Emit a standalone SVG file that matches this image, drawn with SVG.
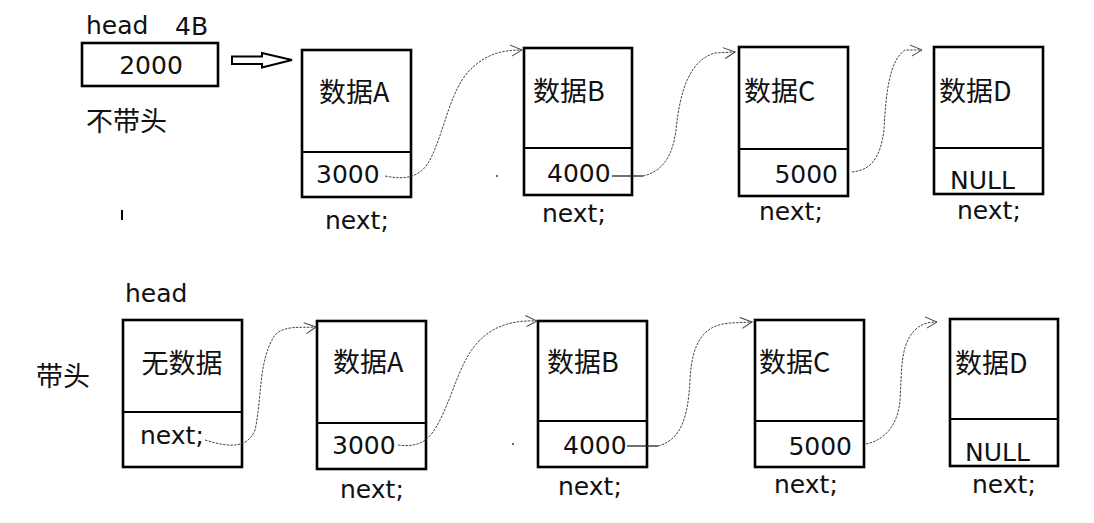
<svg xmlns="http://www.w3.org/2000/svg" width="1094" height="523" viewBox="0 0 1094 523">
<defs>
<marker id="arr" viewBox="0 0 14 14" refX="13" refY="7" markerWidth="14" markerHeight="14" markerUnits="userSpaceOnUse" orient="auto">
<path d="M1,2 L13,7 L3,13" fill="none" stroke="#444" stroke-width="1"/>
</marker>
</defs>
<style>
.box{fill:#fff;stroke:#000;stroke-width:2.6}
.div{stroke:#000;stroke-width:2}
.t{font-family:"DejaVu Sans","Noto Sans CJK SC",sans-serif;font-size:25px;fill:#111}
.c{font-family:"Noto Sans CJK SC","DejaVu Sans",sans-serif;font-size:27px;fill:#111}
.conn{fill:none;stroke:#444;stroke-width:1;stroke-dasharray:2.5 1.2}
.solid{fill:none;stroke:#222;stroke-width:1.3}
</style>
<rect width="1094" height="523" fill="#fff"/>

<g id="labels">
<text class="t" x="86" y="34">head</text>
<text class="t" x="175" y="35">4B</text>
<text class="c" x="86" y="131">不带头</text>
<text class="t" x="125" y="302">head</text>
<text class="c" x="36" y="386">带头</text>
<path d="M122,210 L122,220" stroke="#000" stroke-width="2"/>
<circle cx="497" cy="176" r="1" fill="#333"/>
<circle cx="513" cy="444" r="1" fill="#333"/>
</g>

<g id="head-top">
<rect class="box" x="82" y="43" width="136" height="43"/>
<text class="t" x="151" y="74" text-anchor="middle">2000</text>
</g>
<g id="hollow-arrow">
<path d="M232,56.5 L262,56.5 L262,53 L292,60 L262,67.5 L262,64 L232,64 Z" fill="#fff" stroke="#000" stroke-width="2"/>
</g>

<g id="top-A">
<rect class="box" x="302" y="50" width="109" height="147"/>
<line class="div" x1="302" y1="152" x2="411" y2="152"/>
<text class="c" x="319" y="102">数据A</text>
<text class="t" x="316" y="183">3000</text>
<text class="t" x="325" y="229">next;</text>
</g>
<g id="top-B">
<rect class="box" x="524" y="48" width="108" height="147"/>
<line class="div" x1="524" y1="148" x2="632" y2="148"/>
<text class="c" x="533" y="101">数据B</text>
<text class="t" x="547" y="182">4000</text>
<text class="t" x="542" y="222">next;</text>
</g>
<g id="top-C">
<rect class="box" x="739" y="47" width="109" height="149"/>
<line class="div" x1="739" y1="149" x2="848" y2="149"/>
<text class="c" x="744" y="101">数据C</text>
<text class="t" x="838" y="183" text-anchor="end">5000</text>
<text class="t" x="759" y="220">next;</text>
</g>
<g id="top-D">
<rect class="box" x="934" y="47" width="109" height="147"/>
<line class="div" x1="934" y1="148" x2="1043" y2="148"/>
<text class="c" x="939" y="101">数据D</text>
<text class="t" x="950" y="189">NULL</text>
<text class="t" x="957" y="219">next;</text>
</g>

<g id="bot-head">
<rect class="box" x="123" y="320" width="119" height="147"/>
<line class="div" x1="123" y1="412" x2="242" y2="412"/>
<text class="c" x="182" y="373" text-anchor="middle">无数据</text>
<text class="t" x="140" y="444">next;</text>
</g>
<g id="bot-A">
<rect class="box" x="317" y="321" width="109" height="148"/>
<line class="div" x1="317" y1="423" x2="426" y2="423"/>
<text class="c" x="333" y="372">数据A</text>
<text class="t" x="332" y="454">3000</text>
<text class="t" x="340" y="498">next;</text>
</g>
<g id="bot-B">
<rect class="box" x="538" y="321" width="109" height="146"/>
<line class="div" x1="538" y1="421" x2="647" y2="421"/>
<text class="c" x="547" y="372">数据B</text>
<text class="t" x="563" y="454">4000</text>
<text class="t" x="558" y="495">next;</text>
</g>
<g id="bot-C">
<rect class="box" x="755" y="320" width="109" height="147"/>
<line class="div" x1="755" y1="421" x2="864" y2="421"/>
<text class="c" x="759" y="372">数据C</text>
<text class="t" x="852" y="455" text-anchor="end">5000</text>
<text class="t" x="774" y="493">next;</text>
</g>
<g id="bot-D">
<rect class="box" x="950" y="319" width="108" height="147"/>
<line class="div" x1="950" y1="419" x2="1058" y2="419"/>
<text class="c" x="955" y="373">数据D</text>
<text class="t" x="965" y="461">NULL</text>
<text class="t" x="972" y="493">next;</text>
</g>

<g id="connectors">
<path class="conn" marker-end="url(#arr)" d="M385,176 C405,180 420,178 430,160 C445,130 450,90 470,70 C485,55 500,50 522,50"/>
<path class="solid" d="M612,176 L643,176"/>
<path class="conn" marker-end="url(#arr)" d="M643,176 C660,172 672,160 676,130 C680,90 690,60 715,53 L735,52"/>
<path class="conn" marker-end="url(#arr)" d="M852,172 C870,170 880,160 884,130 C886,90 890,60 905,50 L922,50"/>
<path class="conn" marker-end="url(#arr)" d="M205,440 C230,448 248,448 255,430 C262,400 258,360 275,335 C285,325 300,328 316,327"/>
<path class="conn" marker-end="url(#arr)" d="M398,445 C420,448 430,440 440,420 C455,390 460,360 480,340 C495,325 515,320 537,321"/>
<path class="solid" d="M627,446 L658,446"/>
<path class="conn" marker-end="url(#arr)" d="M658,446 C680,440 688,420 690,380 C692,340 705,325 730,323 L752,322"/>
<path class="conn" marker-end="url(#arr)" d="M866,444 C885,440 898,425 900,400 C902,370 900,345 915,330 C922,323 930,322 937,322"/>
</g>
</svg>
